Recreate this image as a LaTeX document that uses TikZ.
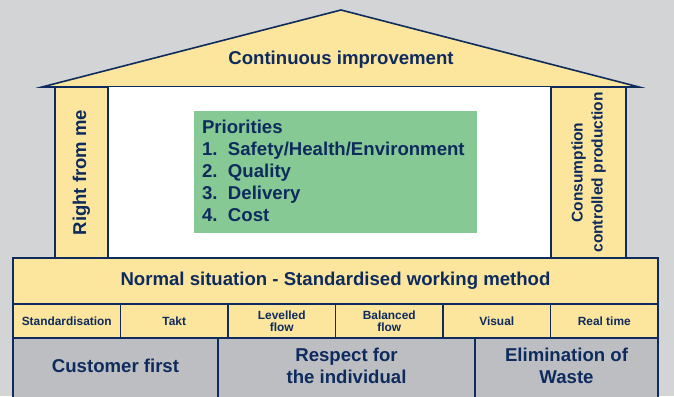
\documentclass[tikz,border=0pt]{standalone}
\usepackage{fontspec}
\setmainfont{Liberation Sans}
\definecolor{bg}{HTML}{D3D4D6}
\definecolor{yel}{HTML}{FCE59D}
\definecolor{navy}{HTML}{0E2B5E}
\definecolor{grn}{HTML}{86C994}
\definecolor{gry}{HTML}{BDBEC2}
\begin{document}
\begin{tikzpicture}[x=1pt,y=-1pt,
  every node/.style={inner sep=0pt,outer sep=0pt,text=navy,font=\bfseries},
  ybox/.style={draw=navy,fill=yel,line width=1.6pt},
  gbox/.style={draw=navy,fill=gry,line width=1.6pt},
  big/.style={font=\fontsize{18.6}{22}\selectfont\bfseries},
  small/.style={font=\fontsize{11.9}{12}\selectfont\bfseries,align=center},
  cellbox/.style={ybox,minimum width=107.5pt,minimum height=34pt,anchor=north west,small}
]
\fill[bg] (0,0) rectangle (674,396);
\useasboundingbox (0,0) rectangle (674,396);
\clip (0,0) rectangle (674,396);
% roof
\coordinate (rl) at (42,87);
\coordinate (ra) at (341,10);
\coordinate (rr) at (639,87);
\filldraw[fill=yel,draw=navy,line width=1.6pt,line join=miter] (rl) -- (ra) -- (rr) -- cycle;
\node[big] (roof) at (341,60) {Continuous improvement};
% centre
\fill[white] (108,87) rectangle (551,258);
\node[ybox,minimum width=53pt,minimum height=171pt,anchor=north west] (lp) at (55,87) {};
\node[rotate=90,font=\fontsize{18.5}{22}\selectfont\bfseries] (lpt) at (lp.center) {Right from me};
\node[ybox,minimum width=75pt,minimum height=171pt,anchor=north west] (rp) at (551,87) {};
\node[rotate=90,font=\fontsize{15.5}{20}\selectfont\bfseries,align=center] (rpt) at (rp.center) {Consumption\\controlled production};
\node[fill=grn,minimum width=283pt,minimum height=122pt,anchor=north west] (prio) at (194,111) {};
\node[anchor=north west,align=left,font=\fontsize{18.6}{22}\selectfont\bfseries] (priot) at (202,120.5)
  {Priorities\\
   \makebox[26pt][l]{1.}Safety/Health/Environment\\
   \makebox[26pt][l]{2.}Quality\\
   \makebox[26pt][l]{3.}Delivery\\
   \makebox[26pt][l]{4.}Cost};
% normal bar
\node[ybox,minimum width=645pt,minimum height=46pt,anchor=north west,big] (norm) at (13,258) {Normal situation - Standardised working method};
% six cells
\node[cellbox] (c1) at (13,304) {Standardisation};
\node[cellbox] (c2) at (120.5,304) {Takt};
\node[cellbox] (c3) at (228,304) {Levelled\\flow};
\node[cellbox] (c4) at (335.5,304) {Balanced\\flow};
\node[cellbox] (c5) at (443,304) {Visual};
\node[cellbox] (c6) at (550.5,304) {Real time};
% base
\node[gbox,minimum width=205pt,minimum height=70pt,anchor=north west] (b1) at (13,338) {};
\node[gbox,minimum width=257pt,minimum height=70pt,anchor=north west] (b2) at (218,338) {};
\node[gbox,minimum width=183pt,minimum height=70pt,anchor=north west] (b3) at (475,338) {};
\node[big] (b1t) at (115.5,366) {Customer first};
\node[big,align=center] (b2t) at (346.5,366) {Respect for\\the individual};
\node[big,align=center] (b3t) at (566.5,366) {Elimination of\\Waste};
\end{tikzpicture}
\end{document}
